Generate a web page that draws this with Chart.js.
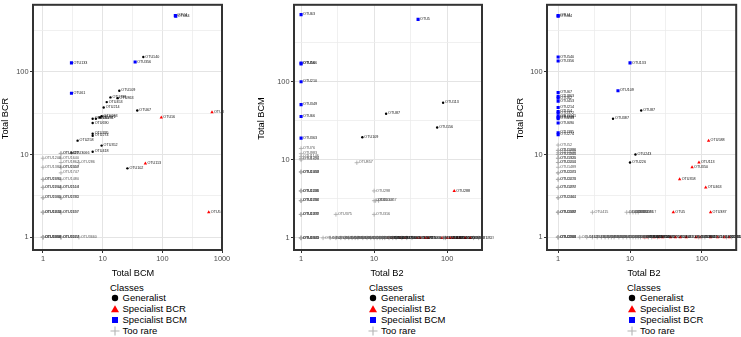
<!DOCTYPE html>
<html><head><meta charset="utf-8">
<script src="https://cdn.jsdelivr.net/npm/chart.js@4"></script>
<style>
html,body{margin:0;padding:0;background:#fff;width:741px;height:337px;overflow:hidden;font-family:"Liberation Sans",Arial,Helvetica,sans-serif;}
canvas{position:absolute;top:0;}
.lt{position:absolute;font-size:9.5px;line-height:11px;color:#000;white-space:nowrap;}
svg.mk{position:absolute;}
</style></head><body>
<canvas id="c1" width="247" height="281" style="left:0px"></canvas>
<canvas id="c2" width="238" height="281" style="left:256px"></canvas>
<canvas id="c3" width="226" height="281" style="left:515px"></canvas>
<script>
// ---------- DATA (x, y, OTU label) ----------
// Panel 1: x = Total BCM, y = Total BCR
const p1Generalist = [[48,151,'OTU140'],[19,59,'OTU109'],[13.5,49,'OTU798'],[17.8,48,'OTU863'],[11.7,43,'OTU453'],[10.4,37,'OTU214'],[38,34,'OTU67'],[9.6,29,'OTU243'],[9,28,'OTU372'],[7.7,27,'OTU1241'],[6.8,27,'OTU210'],[6.8,24,'OTU690'],[6.8,17.8,'OTU395'],[6.8,16.8,'OTU274'],[3.8,14.7,'OTU258'],[9.6,12.8,'OTU352'],[6.8,10.8,'OTU418'],[3,10.4,'OTU3066'],[26,6.8,'OTU102']];
const p1SpecBCR = [[96,28,'OTU16'],[680,32.5,'OTU3'],[52,7.8,'OTU113'],[600,2,'OTU5']];
const p1SpecBCM = [[165,477,'OTU4'],[168,470,'OTU44'],[35,131,'OTU356'],[3,128,'OTU133'],[3,55,'OTU61']];
const p1Rare = [[1,1,'OTU1358'],[1,1,'OTU2480'],[1,1,'OTU3018'],[1,1,'OTU1960'],[2,1,'OTU2264'],[2,1,'OTU3177'],[2,1,'OTU1027'],[4,1,'OTU3660'],
 [1,2,'OTU1446'],[1,2,'OTU2213'],[1,2,'OTU1872'],[2,2,'OTU1197'],[2,2,'OTU2657'],[1,3,'OTU1306'],[1,3,'OTU2095'],[2,3,'OTU1585'],[2,3,'OTU2732'],
 [1,4,'OTU1233'],[1,4,'OTU2864'],[2,4,'OTU1519'],[2,4,'OTU2104'],[1,5,'OTU1690'],[1,5,'OTU2391'],[2,5,'OTU1480'],[2,6,'OTU1747'],
 [1,7,'OTU1383'],[2,7,'OTU1407'],[2,7,'OTU2558'],[2,8,'OTU1867'],[4,8,'OTU286'],[1,9,'OTU1208'],[2,9,'OTU1640'],[2,10.3,'OTU1125'],[2,10.3,'OTU1417']];

// Panel 2: x = Total B2, y = Total BCM
const p2Generalist = [[88,54,'OTU113'],[14.6,39,'OTU87'],[73,26,'OTU156'],[6.9,19.5,'OTU109']];
const p2SpecB2 = [[125,4,'OTU288'],[15.5,1,'OTU512'],[17.7,1,'OTU618'],[22.7,1,'OTU730'],[26.6,1,'OTU845'],[38.8,1,'OTU377'],[42.7,1,'OTU921'],[50,1,'OTU468'],[55,1,'OTU1033'],[85,1,'OTU254'],[100,1,'OTU199'],[110,1,'OTU331'],[121,1,'OTU147'],[137,1,'OTU402'],[150,1,'OTU276'],[177,1,'OTU185'],[207,1,'OTU96']];
const p2SpecBCM = [[1,725,'OTU63'],[40,630,'OTU5'],[1,174,'OTU56'],[1,170,'OTU566'],[1,100,'OTU210'],[1,51,'OTU349'],[1,36,'OTU66'],[1,19,'OTU363']];
const p2Rare = [[5.8,9.2,'OTU857'],[1,14,'OTU76'],[1,12,'OTU983'],[1,11,'OTU1146'],[1,10.4,'OTU1264'],[1,10,'OTU1020'],
 [1,7,'OTU1088'],[1,7,'OTU1352'],[1,7,'OTU2019'],[1,4,'OTU1101'],[1,4,'OTU1489'],[1,4,'OTU2236'],[1,3,'OTU1187'],[1,3,'OTU1736'],[1,3,'OTU2450'],
 [1,2,'OTU1299'],[1,2,'OTU1811'],[1,2,'OTU2377'],[1,1,'OTU1372'],[1,1,'OTU1945'],[1,1,'OTU2613'],[1,1,'OTU3105'],
 [10,4,'OTU298'],[10,3,'OTU3'],[10.5,3,'OTU2067'],[11.5,3,'OTU1467'],[10,2,'OTU316'],[3,2,'OTU375'],
 [2,1,'OTU1412'],[2.5,1,'OTU1533'],[3,1,'OTU1620'],[3.5,1,'OTU1708'],[4,1,'OTU1795'],[4.5,1,'OTU1841'],[5,1,'OTU1903'],[5.5,1,'OTU1987'],[6,1,'OTU2042'],
 [7,1,'OTU2118'],[8,1,'OTU2193'],[9,1,'OTU2256'],[10,1,'OTU2321'],[11,1,'OTU2398'],[12,1,'OTU2474'],[13,1,'OTU2539'],[14,1,'OTU2606'],[16,1,'OTU2681'],
 [18,1,'OTU2745'],[20,1,'OTU2810'],[24,1,'OTU2877'],[28,1,'OTU2933'],[33,1,'OTU2990'],[90,1,'OTU3047'],[95,1,'OTU3112'],[230,1,'OTU3170'],[270,1,'OTU3236']];

// Panel 3: x = Total B2, y = Total BCR
const p3Generalist = [[14.3,34,'OTU87'],[5.8,27,'OTU387'],[11.9,10,'OTU243'],[10,8,'OTU226']];
const p3SpecB2 = [[124,14.7,'OTU588'],[91,8,'OTU113'],[73,7,'OTU350'],[49,5,'OTU358'],[113,4,'OTU463'],[40,2,'OTU5'],[132,2,'OTU387'],
 [15.7,1,'OTU512'],[17.3,1,'OTU618'],[21.6,1,'OTU730'],[25,1,'OTU845'],[28.5,1,'OTU377'],[36.6,1,'OTU921'],[42.8,1,'OTU468'],[50,1,'OTU1033'],[60.6,1,'OTU254'],[83,1,'OTU199'],[94,1,'OTU331'],[132,1,'OTU147'],[165,1,'OTU402'],[205,1,'OTU276'],[240,1,'OTU185']];
const p3SpecBCR = [[1,477,'OTU4'],[1,470,'OTU44'],[1,151,'OTU540'],[1,135,'OTU356'],[10,128,'OTU133'],[6.8,59,'OTU109'],
 [1,56,'OTU67'],[1,50,'OTU863'],[1,48,'OTU62'],[1,44,'OTU453'],[1,37,'OTU214'],[1,33,'OTU54'],[1,31.6,'OTU372'],[1,29,'OTU1241'],[1,28,'OTU210'],[1,27,'OTU243'],[1,24,'OTU690'],[1,18.3,'OTU395'],[1,17.3,'OTU274']];
const p3Rare = [[1,13,'OTU52'],[1,11.2,'OTU1006'],[1,11.2,'OTU1390'],[1,10.5,'OTU1104'],[1,10,'OTU1245'],[1,10,'OTU1800'],[1,9,'OTU1330'],[1,9,'OTU1925'],
 [1,8,'OTU1215'],[1,8,'OTU2004'],[1,7,'OTU1489'],[1,6,'OTU1563'],[1,6,'OTU2271'],[1,5,'OTU1671'],[1,5,'OTU2218'],[1,4,'OTU1290'],[1,4,'OTU1877'],
 [1,3,'OTU1444'],[1,3,'OTU2361'],[1,2,'OTU1322'],[1,2,'OTU1598'],[1,2,'OTU2087'],[1,1,'OTU1188'],[1,1,'OTU1759'],[1,1,'OTU2301'],[1,1,'OTU2944'],
 [3,2,'OTU415'],[9,2,'OTU2184'],[10,2,'OTU1093'],[11,2,'OTU1327'],[12,2,'OTU2061'],[13,2,'OTU1867'],
 [2,1,'OTU1412'],[2.5,1,'OTU1533'],[3,1,'OTU1620'],[3.5,1,'OTU1708'],[4,1,'OTU1795'],[4.5,1,'OTU1841'],[5,1,'OTU1903'],[5.5,1,'OTU1987'],[6,1,'OTU2042'],
 [7,1,'OTU2118'],[8,1,'OTU2193'],[9,1,'OTU2256'],[10,1,'OTU2321'],[11,1,'OTU2398'],[12,1,'OTU2474'],[13,1,'OTU2539'],[14,1,'OTU2606'],[16,1,'OTU2681'],
 [18,1,'OTU2745'],[20,1,'OTU2810'],[24,1,'OTU2877'],[90,1,'OTU3047'],[100,1,'OTU3112'],[110,1,'OTU3170'],[220,1,'OTU3236'],[260,1,'OTU3301']];

// Tick / gridline values (log10 breaks and midpoints)
const gridValues = [1, 3.1623, 10, 31.623, 100, 316.23, 1000];

// Legend texts
const legendTitle = 'Classes';
const legend1 = ['Generalist','Specialist BCR','Specialist BCM','Too rare'];
const legend2 = ['Generalist','Specialist B2','Specialist BCM','Too rare'];
const legend3 = ['Generalist','Specialist B2','Specialist BCR','Too rare'];

// ---------- CHART ----------
Chart.defaults.font.family = '"Liberation Sans", Arial, Helvetica, sans-serif';
Chart.defaults.animation = false;

const isMajor = v => Math.abs(Math.log10(v) - Math.round(Math.log10(v))) < 1e-3;
const toPts = arr => arr.map(p => ({x: p[0], y: p[1], label: p[2]}));

const labelPlugin = {
  id: 'otuLabels',
  afterDatasetsDraw(chart) {
    const ctx = chart.ctx;
    ctx.save();
    ctx.font = '3.7px "Liberation Sans", Arial, sans-serif';
    ctx.textBaseline = 'middle';
    ctx.textAlign = 'left';
    chart.data.datasets.forEach((ds, i) => {
      const meta = chart.getDatasetMeta(i);
      ctx.fillStyle = ds.labelColor;
      meta.data.forEach((el, j) => {
        ctx.fillText(ds.data[j].label, el.x + 2, el.y - 0.4);
      });
    });
    const a = chart.chartArea;
    ctx.strokeStyle = '#333';
    ctx.lineWidth = 2;
    ctx.strokeRect(a.left, a.top, a.right - a.left, a.bottom - a.top);
    // axis titles (placed as in the reference)
    const t = chart.options.plugins.axisTitles;
    ctx.fillStyle = '#000';
    ctx.font = '9.2px "Liberation Sans", Arial, sans-serif';
    ctx.textAlign = 'center';
    ctx.textBaseline = 'middle';
    ctx.fillText(t.x, t.xPos, 273.5);
    ctx.translate(5.6, t.yPos);
    ctx.rotate(-Math.PI / 2);
    ctx.fillText(t.y, 0, 0);
    ctx.restore();
  }
};

function axis(min, max, isY, yWidth, xHeight) {
  return {
    type: 'logarithmic', min, max,
    afterBuildTicks: s => { s.ticks = gridValues.filter(v => v >= min * 0.999 && v <= max * 1.001).map(v => ({value: v})); },
    afterFit: s => {
      if (isY) { s.width = yWidth; s.paddingTop = 0; s.paddingBottom = 0; }
      else { s.height = xHeight; s.paddingLeft = 0; s.paddingRight = 0; }
    },
    ticks: {
      autoSkip: false, maxRotation: 0, minRotation: 0, padding: 1.5,
      color: '#4d4d4d', font: {size: 7.4},
      callback: v => isMajor(v) ? String(Math.round(v)) : ''
    },
    grid: {
      color: c => isMajor(c.tick.value) ? '#e4e4e4' : '#ececec',
      lineWidth: c => isMajor(c.tick.value) ? 1 : 0.8,
      tickColor: c => isMajor(c.tick.value) ? '#333' : 'rgba(0,0,0,0)',
      tickLength: 3, tickWidth: 1
    },
    border: {display: false},
    title: {display: false}
  };
}

function makeChart(id, cfg) {
  const ds = [
    {label: 'Too rare', data: toPts(cfg.rare), pointStyle: 'cross', pointRadius: 2.2, borderColor: '#a6a6a6', borderWidth: 0.8, backgroundColor: '#a6a6a6', labelColor: '#555'},
    {label: 'Generalist', data: toPts(cfg.gen), pointStyle: 'circle', pointRadius: 1.2, backgroundColor: '#000', borderColor: '#000', borderWidth: 0, labelColor: '#111'},
    {label: cfg.redName, data: toPts(cfg.red), pointStyle: 'triangle', pointRadius: 2, backgroundColor: '#ff0000', borderColor: '#ff0000', borderWidth: 0, labelColor: '#111'},
    {label: cfg.blueName, data: toPts(cfg.blue), pointStyle: 'rect', pointRadius: 2.2, backgroundColor: '#0000ff', borderColor: '#0000ff', borderWidth: 0, labelColor: '#111'}
  ];
  new Chart(document.getElementById(id), {
    type: 'scatter',
    data: {datasets: ds},
    options: {
      responsive: false, animation: false,
      layout: {padding: {left: 0, top: 3, right: cfg.padRight, bottom: 2}},
      plugins: {legend: {display: false}, tooltip: {enabled: false},
        axisTitles: {x: cfg.xTitle, y: cfg.yTitle, xPos: cfg.xTitlePos, yPos: 118.5}},
      scales: {
        x: axis(cfg.xMin, cfg.xMax, false, 0, 29),
        y: axis(cfg.yMin, cfg.yMax, true, cfg.yWidth, 0)
      }
    },
    plugins: [labelPlugin]
  });
}

makeChart('c1', {gen: p1Generalist, red: p1SpecBCR, blue: p1SpecBCM, rare: p1Rare, redName: 'Specialist BCR', blueName: 'Specialist BCM',
  xMin: 0.68, xMax: 1000, yMin: 0.74, yMax: 645, xTitle: 'Total BCM', yTitle: 'Total BCR', yWidth: 33, padRight: 25, xTitlePos: 133});
makeChart('c2', {gen: p2Generalist, red: p2SpecB2, blue: p2SpecBCM, rare: p2Rare, redName: 'Specialist B2', blueName: 'Specialist BCM',
  xMin: 0.80, xMax: 300, yMin: 0.73, yMax: 970, xTitle: 'Total B2', yTitle: 'Total BCM', yWidth: 38, padRight: 12, xTitlePos: 131});
makeChart('c3', {gen: p3Generalist, red: p3SpecB2, blue: p3SpecBCR, rare: p3Rare, redName: 'Specialist B2', blueName: 'Specialist BCR',
  xMin: 0.73, xMax: 300, yMin: 0.74, yMax: 645, xTitle: 'Total B2', yTitle: 'Total BCR', yWidth: 32, padRight: 2, xTitlePos: 129});

// ---------- LEGENDS (HTML text) ----------
const NS = 'http://www.w3.org/2000/svg';
function marker(kind, cx, cy) {
  const s = document.createElementNS(NS, 'svg');
  s.setAttribute('class', 'mk'); s.setAttribute('width', 10); s.setAttribute('height', 10);
  s.style.left = (cx - 5) + 'px'; s.style.top = (cy - 5) + 'px';
  let e;
  if (kind === 0) { e = document.createElementNS(NS, 'circle'); e.setAttribute('cx', 5); e.setAttribute('cy', 5); e.setAttribute('r', 3.2); e.setAttribute('fill', '#000'); }
  else if (kind === 1) { e = document.createElementNS(NS, 'polygon'); e.setAttribute('points', '5,1.2 9,8.2 1,8.2'); e.setAttribute('fill', '#ff0000'); }
  else if (kind === 2) { e = document.createElementNS(NS, 'rect'); e.setAttribute('x', 2); e.setAttribute('y', 2); e.setAttribute('width', 6); e.setAttribute('height', 6); e.setAttribute('fill', '#0000ff'); }
  else { e = document.createElementNS(NS, 'path'); e.setAttribute('d', 'M5 0.5 V9.5 M0.5 5 H9.5'); e.setAttribute('stroke', '#b3b3b3'); e.setAttribute('stroke-width', 1.1); e.setAttribute('fill', 'none'); }
  s.appendChild(e);
  document.body.appendChild(s);
}
function text(t, x, cy) {
  const d = document.createElement('div');
  d.className = 'lt'; d.textContent = t;
  d.style.left = x + 'px'; d.style.top = (cy - 5.5) + 'px';
  document.body.appendChild(d);
}
function legend(items, titleX, markX, textX) {
  text(legendTitle, titleX, 287.5);
  const rows = [297.5, 308.5, 319.5, 330.5];
  items.forEach((t, i) => { marker(i, markX, rows[i]); text(t, textX, rows[i]); });
}
legend(legend1, 110, 114.5, 122.5);
legend(legend2, 369, 373, 381);
legend(legend3, 627, 632, 640);
</script>
</body></html>
